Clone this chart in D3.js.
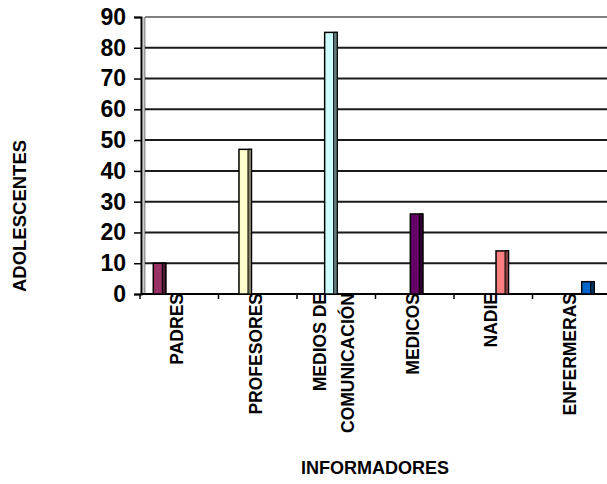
<!DOCTYPE html>
<html>
<head>
<meta charset="utf-8">
<script src="https://cdn.jsdelivr.net/npm/d3@7"></script>
<style>
  html, body { margin: 0; padding: 0; background: #fff; }
  svg { display: block; font-family: "Liberation Sans", Arial, sans-serif; }
</style>
</head>
<body>
<svg id="chart" width="607" height="484"></svg>
<script>
// Who informs adolescents: one series per informant
const categories = ["PADRES", "PROFESORES", "MEDIOS DE COMUNICACIÓN", "MEDICOS", "NADIE", "ENFERMERAS"];
const categoryLines = [["PADRES"], ["PROFESORES"], ["MEDIOS DE", "COMUNICACIÓN"], ["MEDICOS"], ["NADIE"], ["ENFERMERAS"]];
const values = [10, 47, 85, 26, 14, 4];
const frontColors = ["#993366", "#FFFFCC", "#CCFFFF", "#660066", "#FF8080", "#0066CC"];
const sideColors = ["#4d1a33", "#808066", "#668080", "#330033", "#804040", "#003366"];
const yTicks = [0, 10, 20, 30, 40, 50, 60, 70, 80, 90];
const yTitle = "ADOLESCENTES";
const xTitle = "INFORMADORES";

const svg = d3.select("#chart");
const plot = { left: 141, right: 611, top: 17, bottom: 294 };

const x0 = d3.scaleBand().domain(categories).range([140, 611]).padding(0);
const xs = d3.scalePoint().domain(categories).range([13.3, 49.2]);
const y = d3.scaleLinear().domain([0, 90]).range([plot.bottom, plot.top]);
const barW = 12.5, sideW = 3.5;

// back wall edge
svg.append("line")
  .attr("x1", 144.5).attr("x2", 144.5)
  .attr("y1", y(90)).attr("y2", plot.bottom)
  .attr("stroke", "#999").attr("stroke-width", 2);

// gridlines
svg.append("g").selectAll("line").data(yTicks.filter(d => d > 0)).join("line")
  .attr("x1", 145).attr("x2", 607)
  .attr("y1", d => y(d)).attr("y2", d => y(d))
  .attr("stroke", d => d === 90 ? "#808080" : "#1a1a1a")
  .attr("stroke-width", 2);

// y axis
const yAxis = d3.axisLeft(y).tickValues(yTicks).tickSize(7).tickPadding(8);
const gy = svg.append("g").attr("transform", `translate(${plot.left},0)`).call(yAxis);
gy.select(".domain").attr("stroke", "#000").attr("stroke-width", 2);
gy.selectAll(".tick line").attr("stroke", "#000").attr("stroke-width", 1.5);
gy.selectAll(".tick text")
  .attr("font-size", 23).attr("font-weight", "bold").attr("fill", "#000")
  .attr("font-family", "Liberation Sans, Arial, sans-serif");

// x axis with ticks at category boundaries
const boundaries = categories.map(c => x0(c)).concat([x0.range()[1]]);
svg.append("line")
  .attr("x1", plot.left - 1).attr("x2", 607)
  .attr("y1", plot.bottom).attr("y2", plot.bottom)
  .attr("stroke", "#000").attr("stroke-width", 2);
svg.append("g").selectAll("line").data(boundaries).join("line")
  .attr("x1", d => d).attr("x2", d => d)
  .attr("y1", plot.bottom).attr("y2", plot.bottom + 5)
  .attr("stroke", "#000").attr("stroke-width", 1.5);

// bars: front face plus darker side strip
const bars = svg.append("g").selectAll("g").data(categories).join("g");
bars.append("rect")
  .attr("x", c => x0(c) + xs(c))
  .attr("y", (c, i) => y(values[i]))
  .attr("width", barW)
  .attr("height", (c, i) => plot.bottom - y(values[i]))
  .attr("fill", (c, i) => frontColors[i])
  .attr("stroke", "#000").attr("stroke-width", 1.5);
bars.append("rect")
  .attr("x", c => x0(c) + xs(c) + barW - sideW)
  .attr("y", (c, i) => y(values[i]))
  .attr("width", sideW)
  .attr("height", (c, i) => plot.bottom - y(values[i]))
  .attr("fill", (c, i) => sideColors[i])
  .attr("stroke", "#000").attr("stroke-width", 1);

// category labels, rotated
const labels = svg.append("g").selectAll("text").data(categories).join("text")
  .attr("transform", c => `translate(${x0(c) + x0.bandwidth() / 2 - 2},${plot.bottom - 1}) rotate(-90)`)
  .attr("text-anchor", "end")
  .attr("font-size", 17.5).attr("font-weight", "bold").attr("fill", "#000");
labels.each(function(c, i) {
  const lines = categoryLines[i];
  const t = d3.select(this);
  lines.forEach((ln, j) => {
    t.append("tspan")
      .attr("x", 0)
      .attr("y", (j - (lines.length - 1) / 2) * 28)
      .attr("dy", "0.35em")
      .text(ln);
  });
});

// axis titles
svg.append("text")
  .attr("transform", "translate(20,216) rotate(-90)")
  .attr("text-anchor", "middle").attr("dy", "0.35em")
  .attr("font-size", 18.5).attr("font-weight", "bold")
  .text(yTitle);
svg.append("text")
  .attr("x", 375).attr("y", 474)
  .attr("text-anchor", "middle")
  .attr("font-size", 18).attr("font-weight", "bold")
  .text(xTitle);
</script>
</body>
</html>
